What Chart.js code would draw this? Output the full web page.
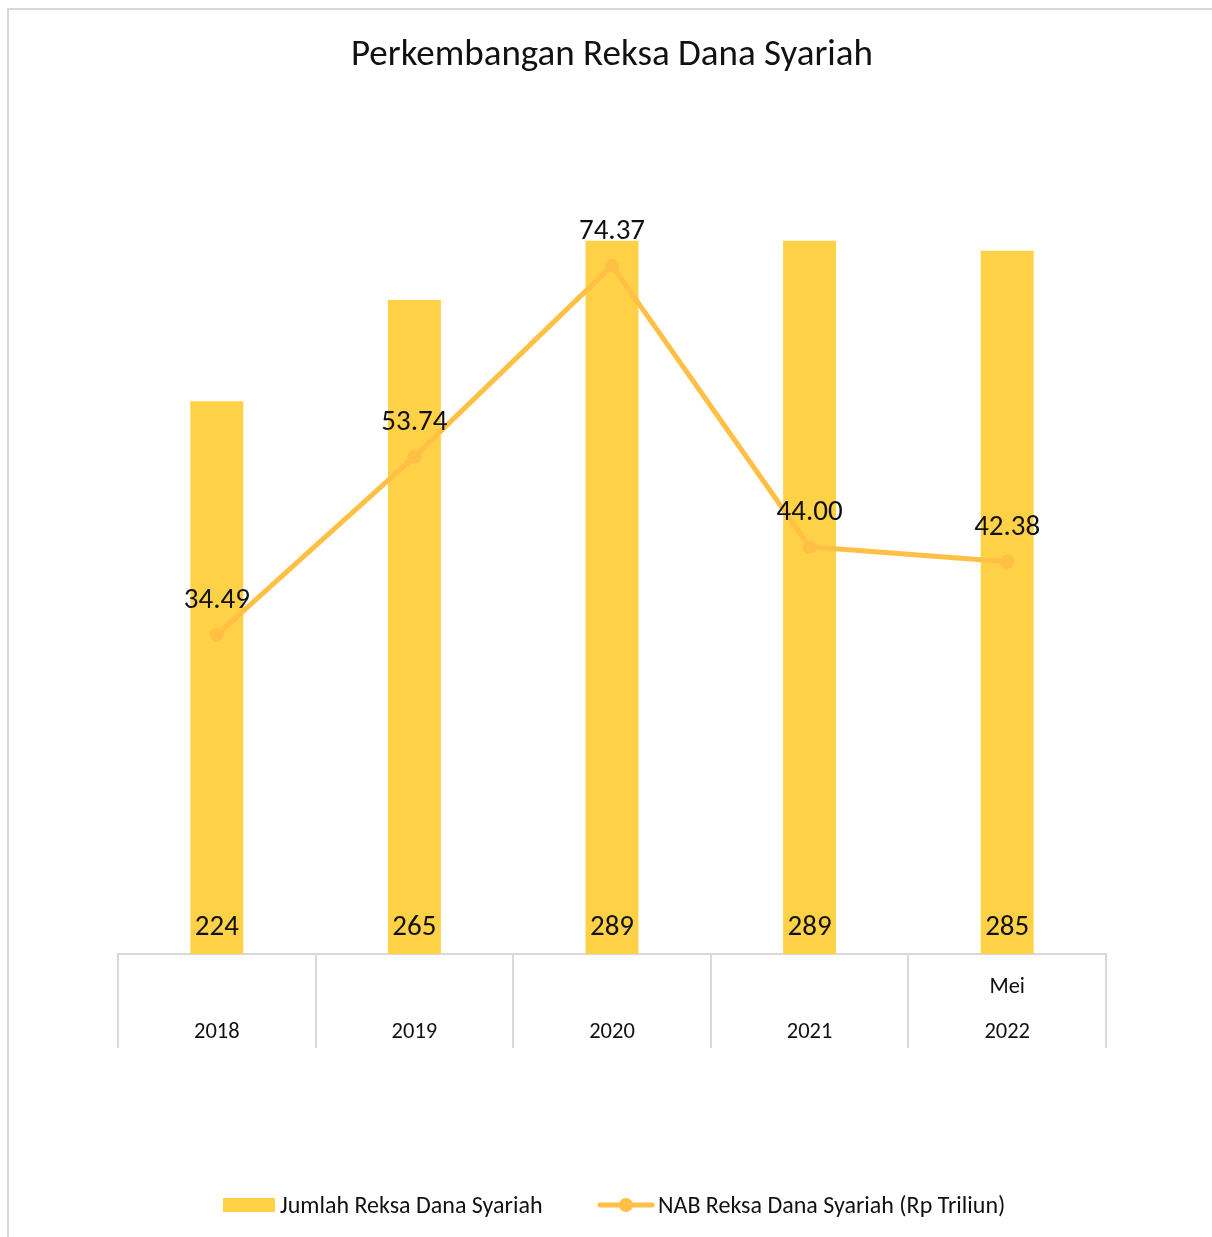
<!DOCTYPE html>
<html>
<head>
<meta charset="utf-8">
<script src="https://cdn.jsdelivr.net/npm/chart.js@4/dist/chart.umd.min.js"></script>
<style>
  html, body { margin: 0; padding: 0; background: #fff; overflow: hidden; }
  #frame { position: absolute; left: 7px; top: 8px; width: 1400px; height: 1400px;
           border-left: 2px solid #d9d9d9; border-top: 2px solid #d9d9d9; box-sizing: border-box; }
  #wrap { position: absolute; left: 0; top: 0; width: 1212px; height: 1237px; }
</style>
</head>
<body>
<div id="frame"></div>
<div id="wrap"><canvas id="c" width="1212" height="1237"></canvas></div>
<script>
const titleText = 'Perkembangan Reksa Dana Syariah';
const categories = [['', '2018'], ['', '2019'], ['', '2020'], ['', '2021'], ['Mei', '2022']];
const jumlahLabel = 'Jumlah Reksa Dana Syariah';
const nabLabel = 'NAB Reksa Dana Syariah (Rp Triliun)';
const jumlahValues = [224, 265, 289, 289, 285];
const nabValues = [34.49, 53.74, 74.37, 44.00, 42.38];
const nabText = ['34.49', '53.74', '74.37', '44.00', '42.38'];

const FONT = "Carlito, Lato, 'Open Sans', sans-serif";
const BAR_COLOR = '#FFD147';
const LINE_COLOR = '#FFC045';
const GRID_COLOR = '#d9d9d9';

const labelPlugin = {
  id: 'valueLabels',
  afterDatasetsDraw(chart) {
    const ctx = chart.ctx;
    ctx.save();
    ctx.font = '29px ' + FONT;
    ctx.fillStyle = '#111';
    ctx.textAlign = 'center';
    ctx.textBaseline = 'middle';
    const barMeta = chart.getDatasetMeta(0);
    const base = chart.scales.y.getPixelForValue(0);
    barMeta.data.forEach((el, i) => {
      ctx.fillText(String(jumlahValues[i]), el.x, base - 26);
    });
    const lineMeta = chart.getDatasetMeta(1);
    lineMeta.data.forEach((el, i) => {
      ctx.fillText(nabText[i], el.x, el.y - 34);
    });
    ctx.restore();
  }
};

// category separators below the axis line (multi-level axis boxes)
const separatorPlugin = {
  id: 'separators',
  afterDraw(chart) {
    const xs = chart.scales.x;
    const ctx = chart.ctx;
    const n = categories.length;
    const step = (xs.getPixelForTick(n - 1) - xs.getPixelForTick(0)) / (n - 1);
    ctx.save();
    ctx.strokeStyle = GRID_COLOR;
    ctx.lineWidth = 2;
    for (let i = 0; i <= n; i++) {
      const px = Math.round(xs.getPixelForTick(0) - step / 2 + i * step);
      ctx.beginPath();
      ctx.moveTo(px, xs.top);
      ctx.lineTo(px, xs.top + 94);
      ctx.stroke();
    }
    ctx.restore();
  }
};

const legendPlugin = {
  id: 'customLegend',
  afterDraw(chart) {
    const ctx = chart.ctx;
    ctx.save();
    const y = 1205;
    ctx.fillStyle = BAR_COLOR;
    ctx.fillRect(223, y - 7, 52, 14);
    ctx.font = '24px ' + FONT;
    ctx.fillStyle = '#111';
    ctx.textAlign = 'left';
    ctx.textBaseline = 'middle';
    ctx.fillText(jumlahLabel, 280, y + 2);
    ctx.strokeStyle = LINE_COLOR;
    ctx.lineWidth = 5;
    ctx.lineCap = 'round';
    ctx.beginPath();
    ctx.moveTo(600, y);
    ctx.lineTo(652, y);
    ctx.stroke();
    ctx.fillStyle = LINE_COLOR;
    ctx.beginPath();
    ctx.arc(626, y, 7, 0, Math.PI * 2);
    ctx.fill();
    ctx.fillStyle = '#111';
    ctx.fillText(nabLabel, 658, y + 2);
    ctx.restore();
  }
};

new Chart(document.getElementById('c'), {
  type: 'bar',
  data: {
    labels: categories,
    datasets: [
      {
        type: 'bar',
        label: jumlahLabel,
        data: jumlahValues,
        backgroundColor: BAR_COLOR,
        yAxisID: 'y',
        categoryPercentage: 1,
        barPercentage: 0.268,
        order: 2
      },
      {
        type: 'line',
        label: nabLabel,
        data: nabValues,
        borderColor: LINE_COLOR,
        backgroundColor: LINE_COLOR,
        borderWidth: 5,
        pointRadius: 7,
        pointHoverRadius: 7,
        pointBackgroundColor: LINE_COLOR,
        pointBorderWidth: 0,
        tension: 0,
        yAxisID: 'y1',
        order: 1
      }
    ]
  },
  options: {
    responsive: false,
    animation: false,
    events: [],
    layout: { padding: { left: 118, right: 106, top: 0, bottom: 172 } },
    plugins: {
      legend: { display: false },
      tooltip: { enabled: false },
      title: {
        display: true,
        text: titleText,
        color: '#111',
        font: { family: FONT, size: 37, weight: 'normal', lineHeight: 1.2 },
        padding: { top: 34, bottom: 25 }
      }
    },
    scales: {
      x: {
        offset: true,
        grid: { display: false, drawOnChartArea: false, drawTicks: false },
        border: { display: true, color: GRID_COLOR, width: 2 },
        ticks: { color: '#111', font: { family: FONT, size: 22.5, lineHeight: 2.0 },
                 padding: 10.5, maxRotation: 0, autoSkip: false }
      },
      y: { display: false, min: 0, max: 344.7 },
      y1: { display: false, min: 0, max: 91.9, position: 'right' }
    }
  },
  plugins: [labelPlugin, separatorPlugin, legendPlugin]
});
</script>
</body>
</html>
